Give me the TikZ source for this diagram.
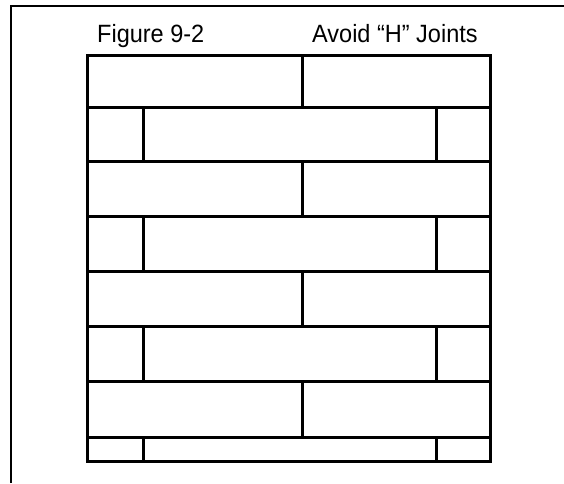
\documentclass[tikz,border=0pt]{standalone}
\usepackage{fontspec}
\setmainfont[FakeStretch=0.94]{Liberation Sans}
\begin{document}
\begin{tikzpicture}[x=1pt, y=-1pt,
  font=\fontsize{25}{28}\selectfont,
  frame/.style={line width=1.8pt},
  brick/.style={line width=3pt, line cap=rect},
  ttl/.style={anchor=base west, inner sep=0pt}]
\useasboundingbox (0,0) rectangle (564,483);

\draw[frame] (11,483) -- (11,6) -- (564,6);

\node[ttl] (fig)   at (97,42)  {Figure 9-2};
\node[ttl] (avoid) at (312,42) {Avoid “H” Joints};

\draw[brick] (87,55) rectangle (490,461);
\draw[brick] (87,107) -- (490,107);
\draw[brick] (87,161) -- (490,161);
\draw[brick] (87,216) -- (490,216);
\draw[brick] (87,271) -- (490,271);
\draw[brick] (87,326) -- (490,326);
\draw[brick] (87,381.5) -- (490,381.5);
\draw[brick] (87,437) -- (490,437);

\draw[brick] (302,55) -- (302,107);
\draw[brick] (302,161) -- (302,216);
\draw[brick] (302,271) -- (302,326);
\draw[brick] (302,381.5) -- (302,437);

\draw[brick] (143,107) -- (143,161);   \draw[brick] (436,107) -- (436,161);
\draw[brick] (143,216) -- (143,271);   \draw[brick] (436,216) -- (436,271);
\draw[brick] (143,326) -- (143,381.5); \draw[brick] (436,326) -- (436,381.5);
\draw[brick] (143,437) -- (143,461);   \draw[brick] (436,437) -- (436,461);
\end{tikzpicture}
\end{document}
